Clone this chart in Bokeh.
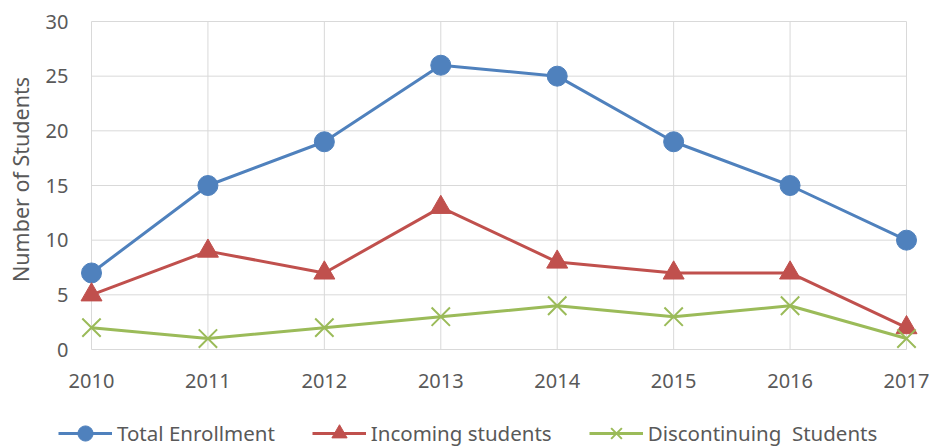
import math
from bokeh.plotting import figure
from bokeh.models import Range1d, Legend, LegendItem
from bokeh.core.properties import value
from bokeh.embed import file_html
from bokeh.resources import INLINE

years = [2010, 2011, 2012, 2013, 2014, 2015, 2016, 2017]
total_enrollment = [7, 15, 19, 26, 25, 19, 15, 10]
incoming_students = [5, 9, 7, 13, 8, 7, 7, 2]
discontinuing_students = [2, 1, 2, 3, 4, 3, 4, 1]
y_ticks = [0, 5, 10, 15, 20, 25, 30]
x_tick_labels = [str(y) for y in years]
y_tick_labels = [str(t) for t in y_ticks]
y_axis_title = "Number of Students"
series_names = ["Total Enrollment", "Incoming students", "Discontinuing  Students"]

BLUE = "#4f81bd"
RED = "#c0504d"
GREEN = "#9bbb59"
GRID = "#d9d9d9"
TEXT = "#595959"
FONT = "Noto Sans"

# canvas and plot-area geometry (pixels)
W, H = 932, 447
PX_L, PX_R = 91, 906      # first / last year
PY_TOP, PY_BOT = 21, 349  # top tick / zero line

sx = (PX_R - PX_L) / (years[-1] - years[0])
sy = (PY_BOT - PY_TOP) / (y_ticks[-1] - y_ticks[0])
x_rng = Range1d(years[0] - PX_L / sx, years[-1] + (W - PX_R) / sx)
y_rng = Range1d(y_ticks[0] - (H - PY_BOT) / sy, y_ticks[-1] + PY_TOP / sy)

p = figure(width=W, height=H, output_backend="svg", toolbar_location=None,
           x_range=x_rng, y_range=y_rng, x_axis_location=None, y_axis_location=None,
           min_border=0, min_border_left=0, min_border_right=0,
           min_border_top=0, min_border_bottom=0)
p.outline_line_color = None
p.grid.visible = False

# gridlines from the tick arrays
p.segment(x0=years, y0=[y_ticks[0]] * len(years), x1=years, y1=[y_ticks[-1]] * len(years),
          line_color=GRID, line_width=1)
p.segment(x0=[years[0]] * len(y_ticks), y0=y_ticks, x1=[years[-1]] * len(y_ticks), y1=y_ticks,
          line_color=GRID, line_width=1)

# tick labels and axis title
p.text(x=[years[0]] * len(y_ticks), y=y_ticks, text=y_tick_labels, x_offset=-23,
       text_align="right", text_baseline="middle", text_font=value(FONT),
       text_font_size="20px", text_color=TEXT)
p.text(x=years, y=[y_ticks[0]] * len(years), text=x_tick_labels, y_offset=31,
       text_align="center", text_baseline="middle", text_font=value(FONT),
       text_font_size="20px", text_color=TEXT)
p.text(x=[years[0]], y=[(y_ticks[0] + y_ticks[-1]) / 2], text=[y_axis_title],
       x_offset=-71, y_offset=-6, angle=math.pi / 2,
       text_align="center", text_baseline="middle", text_font=value(FONT),
       text_font_size="21.5px", text_color=TEXT)

l1 = p.line(years, total_enrollment, line_color=BLUE, line_width=3)
s1 = p.scatter(years, total_enrollment, marker="circle", size=20, fill_color=BLUE, line_color=BLUE)
l2 = p.line(years, incoming_students, line_color=RED, line_width=3)
s2 = p.scatter(years, incoming_students, marker="triangle", size=21, fill_color=RED, line_color=RED)
l3 = p.line(years, discontinuing_students, line_color=GREEN, line_width=3)
s3 = p.scatter(years, discontinuing_students, marker="x", size=26, line_color=GREEN, line_width=2)

legend = Legend(items=[
    LegendItem(label=series_names[0], renderers=[l1, s1]),
    LegendItem(label=series_names[1], renderers=[l2, s2]),
    LegendItem(label=series_names[2], renderers=[l3, s3]),
], orientation="horizontal", location=(58, -5), padding=0, margin=0, spacing=37,
    glyph_width=54, glyph_height=38, label_standoff=5, label_height=38,
    border_line_color=None, background_fill_alpha=0,
    label_text_font=FONT, label_text_font_size="20.5px", label_text_color=TEXT)
p.add_layout(legend, "center")

open("out.html", "w").write(file_html(p, INLINE))
